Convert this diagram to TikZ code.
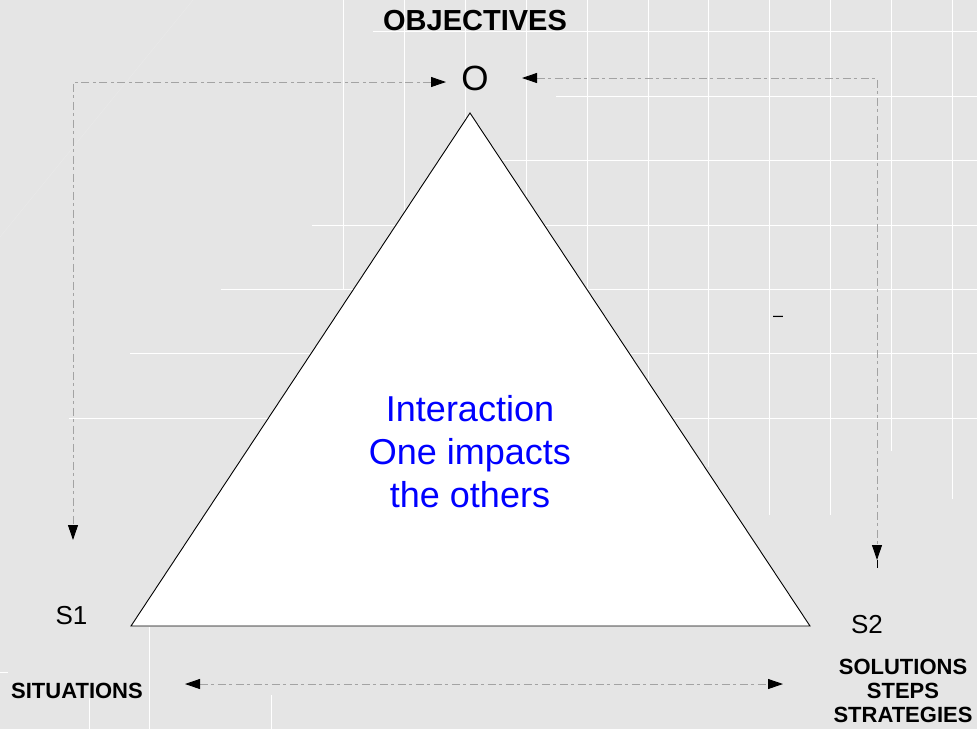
\documentclass[tikz,border=0pt]{standalone}
\usepackage{fontspec}
\setmainfont{Liberation Sans}
\usetikzlibrary{arrows.meta}
\definecolor{bggrey}{HTML}{E5E5E5}
\definecolor{conngrey}{HTML}{A3A3A3}
\definecolor{txtblue}{HTML}{0000FF}
\tikzset{
  gridline/.style={draw=white, line width=1pt},
  tri/.style={draw=black, fill=white, line width=0.9pt, line join=miter},
  conn/.style={draw=conngrey, line width=0.9pt, dash pattern=on 8pt off 3pt on 3pt off 4pt,
    arrows={Triangle[length=15pt,width=10pt,color=black]-Triangle[length=15pt,width=10pt,color=black]}},
  boldlabel/.style={font=\fontsize{22}{24}\selectfont\bfseries, inner sep=0pt, align=center},
  vertexlabel/.style={font=\fontsize{26}{30}\selectfont, inner sep=0pt},
  centertext/.style={font=\fontsize{36}{43}\selectfont, text=txtblue, align=center, inner sep=0pt},
}
\begin{document}
\begin{tikzpicture}[x=1pt,y=-1pt]
% background
\fill[bggrey] (0,0) rectangle (977,729);
\useasboundingbox (0,0) rectangle (977,729);
% faint background grid
\draw[white!15!bggrey, line width=0.6pt] (193,0) -- (0,237);
\draw[gridline] (373,31) -- (977,31);
\draw[gridline] (556,96) -- (977,96);
\draw[gridline] (500,160) -- (977,160);
\draw[gridline] (312,225) -- (977,225);
\draw[gridline] (221,289) -- (977,289);
\draw[gridline] (130,353) -- (977,353);
\draw[gridline] (69,418) -- (977,418);
\draw[gridline] (0,672) -- (8,672);
\draw[gridline] (343,0) -- (343,290);
\draw[gridline] (404,0) -- (404,213);
\draw[gridline] (465,0) -- (465,125);
\draw[gridline] (526,0) -- (526,200);
\draw[gridline] (587,0) -- (587,300);
\draw[gridline] (648,0) -- (648,390);
\draw[gridline] (708,0) -- (708,467);
\draw[gridline] (769,0) -- (769,515);
\draw[gridline] (830,0) -- (830,515);
\draw[gridline] (891,0) -- (891,451);
\draw[gridline] (952,0) -- (952,499);
\draw[gridline] (149,627) -- (149,729);
\draw[gridline] (89,698) -- (89,729);
\draw[gridline] (271,695) -- (271,729);
% triangle
\coordinate (A) at (470,113);
\coordinate (B) at (131,626);
\coordinate (C) at (810,626);
\draw[tri] (A) -- (B) -- (C) -- cycle;
% labels
\node[font=\fontsize{29}{32}\selectfont\bfseries, inner sep=0pt] (obj) at (475,21) {OBJECTIVES};
\node[font=\fontsize{35}{40}\selectfont, inner sep=0pt] (O) at (475,78) {O};
\node[vertexlabel] (s1) at (71.5,615.5) {S1};
\node[vertexlabel] (s2) at (867,625) {S2};
\node[boldlabel] (sit) at (77,690.5) {SITUATIONS};
\node[boldlabel] (sol) at (903,691) {SOLUTIONS\\STEPS\\STRATEGIES};
\node[centertext] (mid) at (470,452) {Interaction\\One impacts\\the others};
\node[font=\fontsize{18}{20}\selectfont, inner sep=0pt] (dash) at (778,319) {–};
% connector end points
\coordinate (oL) at (446,82);
\coordinate (oR) at (522,78);
\coordinate (s1a) at (73,540);
\coordinate (s2a) at (877,560);
\coordinate (s2stub) at (877,568);
\coordinate (bL) at (185,684);
\coordinate (bR) at (783,684);
% connectors
\draw[conn] (oL) -| (s1a);
\draw[conn] (oR) -| (s2a);
\draw[conn] (bL) -- (bR);
\draw[black, line width=0.9pt] (s2a) -- (s2stub);
\end{tikzpicture}
\end{document}
